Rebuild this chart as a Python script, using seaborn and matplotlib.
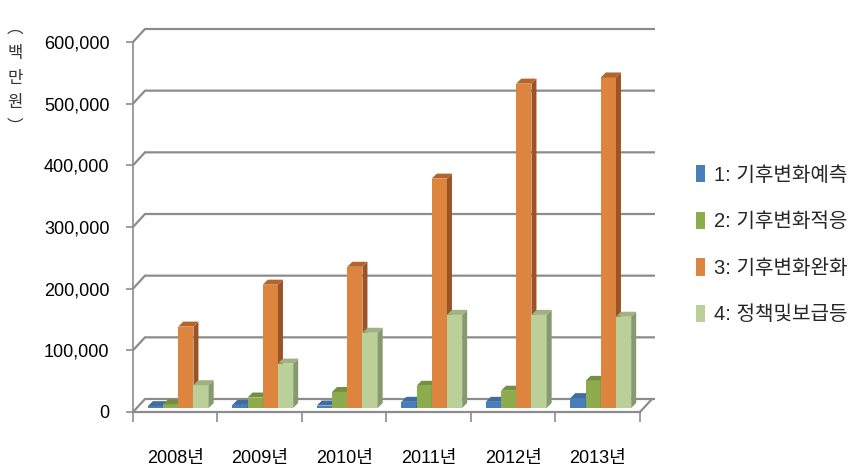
import matplotlib
matplotlib.use("Agg")
import matplotlib.pyplot as plt
from matplotlib.patches import Polygon, Rectangle
from matplotlib.lines import Line2D
import seaborn as sns
import pandas as pd

# ---- data ----
years = ['2008년', '2009년', '2010년', '2011년', '2012년', '2013년']
series_names = ['1: 기후변화예측', '2: 기후변화적응', '3: 기후변화완화', '4: 정책및보급등']
s1 = [3000, 5000, 4000, 10000, 10000, 16000]
s2 = [6000, 17000, 26000, 36000, 28000, 44000]
s3 = [132000, 200000, 229000, 372000, 526000, 536000]
s4 = [37000, 72000, 122000, 151000, 151000, 148000]
yticks = [0, 100000, 200000, 300000, 400000, 500000, 600000]

front_colors = ['#4A7EBB', '#8CAC4D', '#DD843E', '#BBCF99']
side_colors = ['#34598A', '#66803A', '#9A5526', '#87996E']
top_colors = ['#3F6CA3', '#768F3F', '#B5652B', '#9FB27F']

rows = []
for name, vals in zip(series_names, [s1, s2, s3, s4]):
    for y, v in zip(years, vals):
        rows.append({'year': y, 'series': name, 'value': v})
df = pd.DataFrame(rows)

sns.set_theme(style='white')
FONT = ['Liberation Sans', 'Noto Sans CJK KR', 'DejaVu Sans']
plt.rcParams['font.family'] = FONT

W, H = 862, 475
fig = plt.figure(figsize=(W / 100, H / 100), dpi=100)
fig.patch.set_facecolor('white')
# front plane of the 3D box
ax_left, ax_right, ax_top, ax_bot = 133, 640, 42, 412
ax = fig.add_axes([ax_left / W, (H - ax_bot) / H, (ax_right - ax_left) / W, (ax_bot - ax_top) / H])
ax.set_facecolor('none')

palette = dict(zip(series_names, front_colors))
sns.barplot(data=df, x='year', y='value', hue='series', hue_order=series_names,
            order=years, palette=palette, width=0.72, saturation=1, linewidth=0,
            legend=False, ax=ax, errorbar=None)

ax.set_xlim(-0.5, len(years) - 0.5)
ax.set_ylim(0, 600000)
ax.autoscale(False)
ax.set_xlabel('')
ax.set_ylabel('')

GRID = '#8C8C8C'
DEPTH_X, DEPTH_Y = 12, 13     # box depth in pixels
BAR_SHIFT_X, BAR_SHIFT_Y = 3, 4
BAR_D = 5                     # bar depth in pixels

fig.canvas.draw()
to_disp = ax.transData.transform
to_data = ax.transData.inverted().transform


def disp_poly(pts, **kw):
    return Polygon(to_data(pts), closed=True, clip_on=False, edgecolor='none', **kw)


# bars: shift to mid-depth and add side/top faces
for k, cont in enumerate(ax.containers):
    for p in cont.patches:
        z = 3 + k * 0.1
        x0, y0, w, h = p.get_x(), p.get_y(), p.get_width(), p.get_height()
        (X0, Y0), (X1, Y1) = to_disp([(x0, y0), (x0 + w, y0 + h)])
        X0 += BAR_SHIFT_X; X1 += BAR_SHIFT_X
        Y0 += BAR_SHIFT_Y; Y1 += BAR_SHIFT_Y
        (nx0, ny0), (nx1, ny1) = to_data([(X0, Y0), (X1, Y1)])
        p.set_xy((nx0, ny0))
        p.set_width(nx1 - nx0)
        p.set_height(ny1 - ny0)
        p.set_zorder(z)
        p.set_clip_on(False)
        ax.add_patch(disp_poly([(X1, Y0), (X1, Y1), (X1 + BAR_D, Y1 + BAR_D), (X1 + BAR_D, Y0 + BAR_D)],
                               facecolor=side_colors[k], zorder=z + 0.01))
        ax.add_patch(disp_poly([(X0, Y1), (X1, Y1), (X1 + BAR_D, Y1 + BAR_D), (X0 + BAR_D, Y1 + BAR_D)],
                               facecolor=top_colors[k], zorder=z + 0.02))

# back wall gridlines + side wall diagonals
x_lo, x_hi = -0.5, len(years) - 0.5
for v in yticks:
    FX, FY = to_disp((x_lo, v))
    RX, _ = to_disp((x_hi, v))
    pts = to_data([(FX, FY), (FX + DEPTH_X, FY + DEPTH_Y), (RX + DEPTH_X + 3, FY + DEPTH_Y)])
    ax.add_line(Line2D(pts[:, 0], pts[:, 1], color=GRID, lw=1.6, zorder=1, clip_on=False,
                       solid_capstyle='butt', solid_joinstyle='miter'))
# floor right edge
RX, RY = to_disp((x_hi, 0))
pts = to_data([(RX, RY), (RX + DEPTH_X, RY + DEPTH_Y)])
ax.add_line(Line2D(pts[:, 0], pts[:, 1], color=GRID, lw=1.6, zorder=1, clip_on=False))

ax.set_xlim(-0.5, len(years) - 0.5)
ax.set_ylim(0, 600000)

# spines / ticks
for s in ['top', 'right']:
    ax.spines[s].set_visible(False)
ax.spines['left'].set_color(GRID)
ax.spines['left'].set_linewidth(1.2)
ax.spines['bottom'].set_color(GRID)
ax.spines['bottom'].set_linewidth(1.6)

ax.set_yticks(yticks)
ax.set_yticklabels([f'{v:,}' for v in yticks], fontsize=13, color='black')
ax.tick_params(axis='y', which='major', direction='out', length=5, width=1.2, color=GRID, pad=12, left=True)

ax.set_xticks(range(len(years)))
ax.set_xticklabels(years, fontsize=13, color='black')
ax.tick_params(axis='x', which='major', length=0, pad=27)
ax.set_xticks([i - 0.5 for i in range(len(years) + 1)], minor=True)
ax.tick_params(axis='x', which='minor', direction='out', length=7, width=1.2, color=GRID, bottom=True)

# y-axis unit label (vertical)
fig.text(15 / W, 1 - 20 / H, '︵\n백\n만\n원\n︶', ha='center', va='top', fontsize=12,
         color='#333333', linespacing=1.6, family=['Noto Sans CJK KR', 'DejaVu Sans'])

# legend
handles = [Rectangle((0, 0), 1, 1, facecolor=c, edgecolor='none') for c in front_colors]
fig.legend(handles, series_names, loc='upper left', bbox_to_anchor=(688 / W, 1 - 157 / H),
           frameon=False, fontsize=14.5, handlelength=0.42, handleheight=0.95,
           handletextpad=0.45, labelspacing=1.34, borderaxespad=0)

fig.savefig('out.png', dpi=100, facecolor='white')
